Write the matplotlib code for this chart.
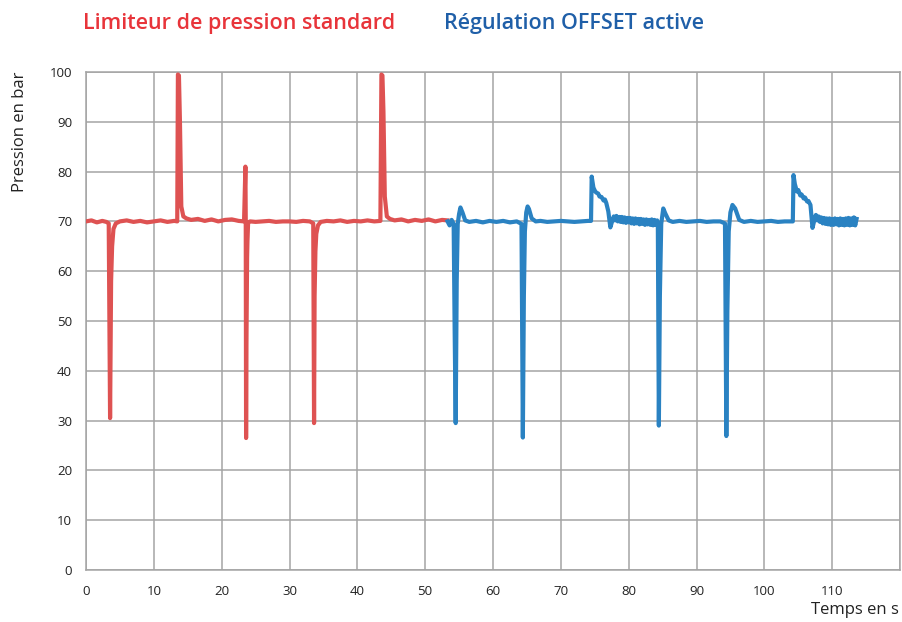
import matplotlib
matplotlib.use("Agg")
import matplotlib.pyplot as plt

# ---------------- data ----------------
title_red = "Limiteur de pression standard"
title_blue = "Régulation OFFSET active"
y_label = "Pression en bar"
x_label = "Temps en s"

x_ticks = [0, 10, 20, 30, 40, 50, 60, 70, 80, 90, 100, 110, 120]
x_tick_labels = ["0", "10", "20", "30", "40", "50", "60", "70", "80", "90", "100", "110", ""]
y_ticks = [0, 10, 20, 30, 40, 50, 60, 70, 80, 90, 100]
y_tick_labels = ["0", "10", "20", "30", "40", "50", "60", "70", "80", "90", "100"]

# standard pressure limiter (red): (time s, pressure bar)
red_points = [
    (0.0, 70.0), (0.8, 70.2), (1.6, 69.8), (2.4, 70.1), (3.0, 69.9), (3.35, 69.6),
    (3.45, 50.0), (3.55, 30.5), (3.7, 58.0), (3.85, 65.0), (4.05, 68.5), (4.4, 69.6),
    (5.0, 70.0), (6.0, 70.2), (7.0, 69.9), (8.0, 70.1), (9.0, 69.8), (10.0, 70.0),
    (11.0, 70.2), (12.0, 69.9), (13.0, 70.1), (13.45, 70.0), (13.55, 99.5),
    (13.7, 99.3), (13.85, 90.0), (14.05, 73.0), (14.35, 71.0), (14.8, 70.6),
    (15.5, 70.3), (16.5, 70.5), (17.5, 70.1), (18.5, 70.4), (19.5, 70.0),
    (20.5, 70.3), (21.5, 70.4), (22.5, 70.1), (23.3, 70.0), (23.5, 81.0),
    (23.55, 70.0), (23.6, 26.5), (23.65, 45.0), (23.75, 62.8), (23.8, 66.0),
    (23.9, 69.8), (24.2, 70.0), (25.0, 69.9), (26.0, 70.0), (27.0, 70.1),
    (28.0, 69.9), (29.0, 70.0), (30.0, 70.0), (31.0, 69.9), (32.0, 70.1),
    (33.0, 70.0), (33.5, 69.6), (33.62, 29.5), (33.7, 55.0), (33.82, 64.0),
    (33.95, 67.5), (34.2, 69.2), (34.6, 69.9), (35.5, 70.1), (36.5, 70.0),
    (37.5, 70.2), (38.5, 69.9), (39.5, 70.1), (40.5, 70.0), (41.5, 70.2),
    (42.5, 70.0), (43.4, 70.1), (43.55, 99.5), (43.7, 99.3), (43.85, 92.0),
    (44.05, 75.0), (44.35, 71.0), (44.8, 70.5), (45.5, 70.2), (46.5, 70.4),
    (47.5, 70.0), (48.5, 70.3), (49.5, 70.1), (50.5, 70.4), (51.5, 70.0),
    (52.5, 70.3), (53.3, 70.2),
]

# OFFSET regulation (blue): (time s, pressure bar)
blue_points = [
    (53.3, 70.0), (53.6, 69.2), (53.9, 70.3), (54.2, 69.5), (54.35, 48.0),
    (54.5, 29.5), (54.65, 58.0), (54.8, 69.5), (55.0, 71.5), (55.2, 72.8),
    (55.5, 71.8), (55.9, 70.2), (56.5, 69.9), (57.5, 70.1), (58.5, 69.8),
    (59.5, 70.1), (60.5, 69.9), (61.5, 70.1), (62.5, 69.8), (63.5, 70.0),
    (64.2, 69.5), (64.4, 26.6), (64.55, 55.0), (64.7, 68.0), (64.9, 71.8),
    (65.1, 73.0), (65.3, 72.5), (65.7, 70.6), (66.3, 70.0), (67.0, 70.1),
    (68.0, 69.9), (69.0, 70.0), (70.0, 70.1), (71.0, 70.0), (72.0, 69.9),
    (73.0, 70.0), (74.0, 70.1), (74.45, 70.1), (74.55, 79.0), (74.8, 76.8),
    (75.0, 76.2), (75.2, 75.8), (75.5, 75.6), (75.7, 75.0), (76.0, 74.9),
    (76.3, 74.2), (76.5, 74.4), (76.7, 73.7), (77.0, 72.0), (77.3, 68.8),
    (77.6, 70.2), (77.8, 71.0), (78.0, 70.2), (78.2, 71.1), (78.4, 70.0),
    (78.6, 70.9), (78.8, 69.9), (79.0, 70.9), (79.2, 69.8), (79.4, 70.8),
    (79.6, 69.7), (79.8, 70.7), (80.0, 69.8), (80.2, 70.7), (80.4, 69.6),
    (80.6, 70.6), (80.8, 69.5), (81.0, 70.6), (81.2, 69.6), (81.4, 70.5),
    (81.6, 69.4), (81.8, 70.5), (82.0, 69.5), (82.2, 70.4), (82.4, 69.3),
    (82.6, 70.4), (82.8, 69.4), (83.0, 70.3), (83.2, 69.3), (83.4, 70.4),
    (83.6, 69.2), (83.8, 70.3), (84.0, 69.3), (84.2, 70.2), (84.3, 69.6),
    (84.45, 29.0), (84.6, 55.0), (84.8, 69.5), (85.1, 72.6), (85.4, 71.6),
    (85.9, 70.2), (86.5, 69.9), (87.5, 70.1), (88.5, 69.9), (89.5, 70.0),
    (90.5, 70.1), (91.5, 69.9), (92.5, 70.0), (93.5, 70.0), (94.2, 69.6),
    (94.4, 26.9), (94.55, 52.0), (94.75, 68.0), (95.0, 71.8), (95.3, 73.3),
    (95.7, 72.6), (96.3, 70.3), (97.0, 69.9), (98.0, 70.1), (99.0, 69.9),
    (100.0, 70.0), (101.0, 70.1), (102.0, 69.9), (103.0, 70.0), (104.2, 70.0),
    (104.3, 79.3), (104.5, 77.5), (104.8, 76.0), (105.0, 76.3), (105.3, 75.2),
    (105.5, 75.4), (105.8, 74.6), (106.0, 74.8), (106.3, 74.0), (106.5, 74.1),
    (106.8, 73.3), (107.1, 68.7), (107.4, 70.4), (107.6, 71.3), (107.8, 70.2),
    (108.0, 71.0), (108.2, 69.9), (108.4, 70.8), (108.6, 69.6), (108.8, 70.7),
    (109.0, 69.5), (109.2, 70.6), (109.4, 69.4), (109.6, 70.6), (109.8, 69.3),
    (110.0, 70.5), (110.2, 69.3), (110.4, 70.6), (110.6, 69.4), (110.8, 70.5),
    (111.0, 69.2), (111.2, 70.6), (111.4, 69.3), (111.6, 70.5), (111.8, 69.2),
    (112.0, 70.6), (112.2, 69.3), (112.4, 70.7), (112.6, 69.2), (112.8, 70.6),
    (113.0, 69.3), (113.2, 70.8), (113.4, 69.2), (113.6, 70.5),
]

red_t, red_p = zip(*red_points)
blue_t, blue_p = zip(*blue_points)

# ---------------- figure ----------------
red_line = "#de5252"
blue_line = "#2a82c2"
grid_col = "#a4a4a4"

fig = plt.figure(figsize=(9.02, 6.22), dpi=100)
ax = fig.add_axes([86 / 902, 52 / 622, 814 / 902, 498 / 622])

ax.plot(red_t, red_p, color=red_line, lw=3.0, solid_joinstyle="round", zorder=3)
ax.plot(blue_t, blue_p, color=blue_line, lw=3.0, solid_joinstyle="round", zorder=3)

ax.set_xlim(0, 120)
ax.set_ylim(0, 100)
ax.set_xticks(x_ticks)
ax.set_xticklabels(x_tick_labels)
ax.set_yticks(y_ticks)
ax.set_yticklabels(y_tick_labels)
ax.grid(True, color=grid_col, lw=1.1, zorder=1)
for s in ax.spines.values():
    s.set_color(grid_col)
    s.set_linewidth(1.1)
ax.tick_params(axis="both", length=0, labelsize=9.5, colors="#222222")
ax.tick_params(axis="x", pad=11)
ax.tick_params(axis="y", pad=10)
for lab in ax.get_xticklabels() + ax.get_yticklabels():
    lab.set_family("Open Sans")

fig.text(20 / 902, 1 - 132 / 622, y_label, rotation=90, ha="center", va="center",
         fontsize=12, family="Open Sans", color="#222222")
fig.text(899 / 902, 1 - 610 / 622, x_label, ha="right", va="center",
         fontsize=12, family="Open Sans", color="#222222")

fig.text(83 / 902, 1 - 23 / 622, title_red, ha="left", va="center",
         fontsize=15.5, family="Open Sans", fontweight="semibold", color="#e8343a")
fig.text(444 / 902, 1 - 23 / 622, title_blue, ha="left", va="center",
         fontsize=15.5, family="Open Sans", fontweight="semibold", color="#1f5fa8")

fig.savefig("out.png", dpi=100)
